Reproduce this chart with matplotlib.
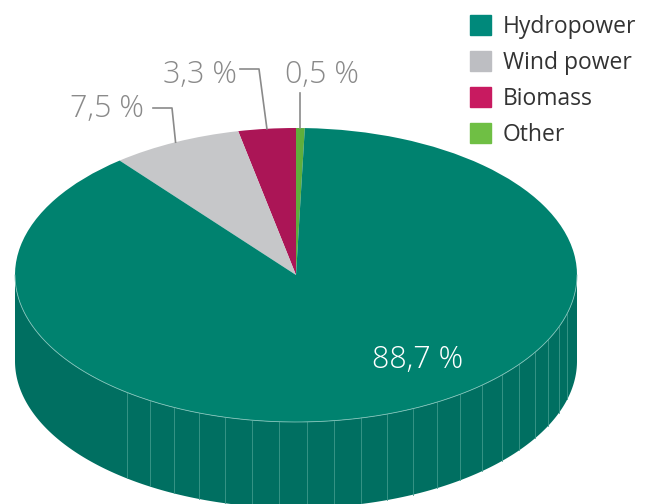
import numpy as np
import matplotlib.pyplot as plt
from matplotlib.patches import Patch, Polygon

plt.rcParams['font.family'] = ['Open Sans', 'DejaVu Sans']

# Electricity production by source (%)
sources = ["Hydropower", "Wind power", "Biomass", "Other"]
shares = [88.7, 7.5, 3.3, 0.5]
top_colors = ["#00826f", "#c6c7c9", "#ab1556", "#5fae3c"]
side_colors = ["#006f61", "#a9aaac", "#8d1046", "#4d9030"]
legend_colors = ["#00897b", "#bdbec2", "#c81a60", "#6fbf44"]

# disc geometry in pixels
W, H = 651, 504
cx, cy = 296, 275
rx, ry = 281, 147
depth = 86 / ry


def px(x, y):
    return (x - cx) / rx, (cy - y) / ry


fig = plt.figure(figsize=(W / 100, H / 100), dpi=100)
ax = fig.add_axes([0, 0, 1, 1])

# top face: counterclockwise from Other round to Hydropower
order = [3, 2, 1, 0]
wedges, _ = ax.pie([shares[i] for i in order],
                   colors=[top_colors[i] for i in order],
                   startangle=90 - shares[3] / 100 * 360, counterclock=True,
                   wedgeprops=dict(linewidth=0), radius=1)
for w in wedges:
    w.set_zorder(2)

# visible side of the disc
for w, i in zip(wedges, order):
    for lo, hi in [(180, 360), (540, 720)]:
        a, b = max(w.theta1, lo), min(w.theta2, hi)
        if b > a:
            t = np.radians(np.linspace(a, b, 300))
            xs, ys = np.cos(t), np.sin(t)
            poly = np.column_stack([np.r_[xs, xs[::-1]], np.r_[ys, ys[::-1] - depth]])
            ax.add_patch(Polygon(poly, closed=True, fc=side_colors[i], ec="none", zorder=1))

# facet lines on the side
for deg in np.arange(233, 350, 5.6):
    t = np.radians(deg)
    ax.plot([np.cos(t)] * 2, [np.sin(t), np.sin(t) - depth], color="#3f998c", lw=0.6, zorder=1.5)

# light rim along the front edge
t = np.radians(np.linspace(180, 360, 300))
ax.plot(np.cos(t), np.sin(t), color="#7fc2b8", lw=0.6, zorder=3)


def fmt(v):
    return f"{v:.1f}".replace(".", ",") + " %"


def rim(w):
    m = np.radians((w.theta1 + w.theta2) / 2)
    return np.cos(m), np.sin(m)


label_color = "#8a8a8a"
label_kw = dict(va="baseline", fontsize=22, fontweight="light")
by_index = dict(zip(order, wedges))

# callouts for the small slices
ax0, ay0 = rim(by_index[1])
ex, ey = px(172, 108)
fx, _ = px(153, 108)
ax.plot([ax0, ex, fx], [ay0, ey, ey], color=label_color, lw=1.2, zorder=4)
tx, ty = px(144, 117)
ax.text(tx, ty, fmt(shares[1]), ha="right", color=label_color, **label_kw)

ax0, ay0 = rim(by_index[2])
ex, ey = px(259, 69)
fx, _ = px(240, 69)
ax.plot([ax0, ex, fx], [ay0, ey, ey], color=label_color, lw=1.2, zorder=4)
tx, ty = px(237, 83)
ax.text(tx, ty, fmt(shares[2]), ha="right", color=label_color, **label_kw)

ax0, ay0 = rim(by_index[3])
_, ey = px(301, 93)
ax.plot([ax0, ax0], [ay0, ey], color=label_color, lw=1.2, zorder=4)
tx, ty = px(285, 83)
ax.text(tx, ty, fmt(shares[3]), ha="left", color=label_color, **label_kw)

tx, ty = px(418, 368)
ax.text(tx, ty, fmt(shares[0]), ha="center", color="white", zorder=5, **label_kw)

ax.set_aspect("auto")
ax.set_xlim(-cx / rx, (W - cx) / rx)
ax.set_ylim(-(H - cy) / ry, cy / ry)
ax.axis("off")

handles = [Patch(color=c, label=s) for c, s in zip(legend_colors, sources)]
leg = ax.legend(handles=handles, loc="upper left", bbox_to_anchor=(470 / W, 1 - 15 / H),
                bbox_transform=fig.transFigure, frameon=False, fontsize=16.5,
                handlelength=0.92, handleheight=0.92, handletextpad=0.5,
                labelspacing=0.52, borderaxespad=0, borderpad=0)
for txt in leg.get_texts():
    txt.set_color("#333333")

fig.savefig("out.png", dpi=100)
